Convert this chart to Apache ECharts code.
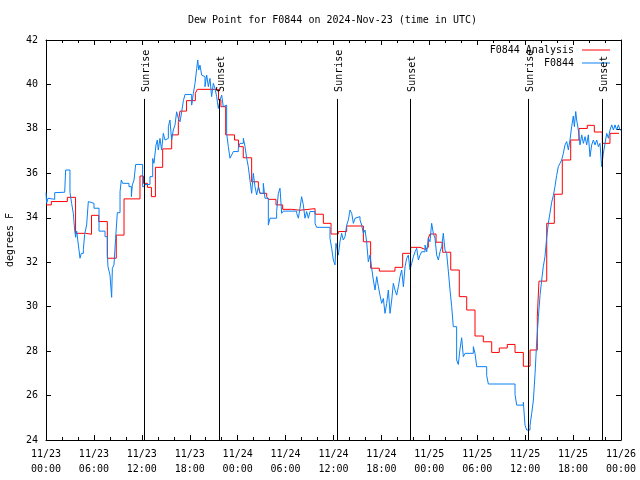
<!DOCTYPE html>
<html><head><meta charset="utf-8">
<script src="https://cdn.jsdelivr.net/npm/echarts@6/dist/echarts.min.js"></script>
<style>html,body{margin:0;padding:0;background:#fff}#c{width:640px;height:480px}</style>
</head><body><div id="c"></div>
<script>
var FONT = '"DejaVu Sans Mono", monospace';
var chartTitle = 'Dew Point for F0844 on 2024-Nov-23 (time in UTC)';
var yAxisTitle = 'degrees F';
var seriesNames = ['F0844 Analysis', 'F0844'];
var xTickLabels = ['11/23\n00:00','11/23\n06:00','11/23\n12:00','11/23\n18:00',
  '11/24\n00:00','11/24\n06:00','11/24\n12:00','11/24\n18:00',
  '11/25\n00:00','11/25\n06:00','11/25\n12:00','11/25\n18:00','11/26\n00:00'];
// hours since 11/23 00:00 UTC
var eventHours = [12.3, 21.7, 36.4, 45.6, 60.4, 69.65];
var eventLabels = ['Sunrise','Sunset','Sunrise','Sunset','Sunrise','Sunset'];
// analysis (hours, degF)
var analysisSeries = [[0,34.58],[0.67,34.73],[2.67,34.92],[3.7,33.30],[4.97,33.26],[5.7,34.11],[6.6,33.83],[7.68,32.18],[8.8,33.22],[9.77,34.85],[11.77,35.88],[12.2,35.55],[12.7,35.37],[13.2,34.95],[13.7,36.27],[14.61,37.1],[15.74,37.73],[16.57,38.33],[16.78,38.8],[17.6,39.27],[18.7,39.6],[18.95,39.78],[21.6,39.3],[21.9,39.0],[22.5,37.73],[23.6,37.5],[24.1,37.2],[24.7,36.7],[25.75,35.62],[26.59,35.43],[26.8,35.1],[27.63,34.95],[27.84,34.83],[28.8,34.58],[29.63,34.38],[30.76,34.34],[31.8,34.41],[33.69,34.16],[34.73,33.75],[35.69,33.27],[36.6,33.38],[37.65,33.63],[39.74,32.92],[40.65,31.73],[41.74,31.6],[43.7,31.77],[44.66,32.4],[45.66,32.67],[46.83,32.58],[47.46,32.67],[47.87,33.08],[48.08,33.27],[48.84,32.9],[49.67,32.45],[50.68,31.65],[51.75,30.45],[52.68,29.85],[53.72,28.68],[54.76,28.42],[55.81,27.94],[56.76,28.14],[57.76,28.3],[58.73,27.94],[59.77,27.32],[60.61,28.05],[61.52,29.55],[61.73,31.15],[62.7,33.75],[63.65,35.06],[64.65,36.6],[65.7,37.5],[66.74,38.02],[67.78,38.16],[68.66,37.86],[69.66,37.35],[70.62,37.8],[71.75,37.8]];
// observations (hours, degF)
var obsSeries = [[0,35.13],[0.08,34.65],[0.25,34.88],[0.5,34.83],[1.09,35.13],[1.25,35.15],[2.34,35.19],[2.46,36.15],[3.0,35.15],[3.21,34.65],[3.42,34.2],[3.59,33.45],[3.71,33.12],[3.84,33.4],[4.05,32.78],[4.26,32.18],[4.42,32.4],[4.68,32.58],[4.84,33.26],[5.09,33.68],[5.3,34.73],[5.38,34.65],[6.01,34.43],[6.64,33.4],[7.39,33.15],[7.68,32.4],[7.76,31.8],[8.01,31.43],[8.22,30.42],[8.31,31.73],[8.51,31.88],[8.72,33.08],[8.93,34.23],[9.27,35.17],[9.43,35.7],[9.6,35.55],[10.39,35.4],[10.69,34.95],[10.81,35.48],[11.02,35.7],[11.23,36.4],[12.1,35.4],[12.36,35.5],[13.02,35.85],[13.36,36.67],[13.52,36.45],[13.77,37.27],[13.94,37.5],[14.06,37.05],[14.27,37.57],[14.48,37.05],[14.69,37.8],[14.9,37.5],[15.11,37.57],[15.32,38.1],[15.52,38.4],[15.73,37.5],[15.94,37.95],[16.15,38.17],[16.36,38.77],[16.57,38.47],[16.78,38.32],[16.99,38.77],[17.2,39.27],[17.41,39.55],[18.24,39.07],[18.45,39.6],[18.66,40.05],[18.87,40.72],[19.0,41.1],[19.12,40.65],[19.28,40.87],[19.49,40.42],[19.7,40.35],[19.91,39.9],[20.12,40.42],[20.33,39.9],[20.53,40.27],[20.74,39.45],[20.95,40.05],[21.16,39.82],[21.37,39.45],[21.58,38.92],[21.79,39.3],[22.0,39.52],[22.2,39.0],[22.41,39.07],[22.62,37.8],[22.83,37.2],[23.04,36.68],[23.25,36.83],[23.46,36.98],[24.08,37.13],[24.29,37.35],[24.71,37.58],[24.92,37.2],[25.13,36.68],[25.33,36.3],[25.54,35.7],[25.75,35.1],[25.96,36.0],[26.17,35.4],[26.38,35.03],[26.59,35.4],[26.8,35.1],[27.21,35.55],[27.42,34.88],[27.84,33.67],[28.05,33.98],[28.88,34.28],[29.09,35.1],[29.3,35.33],[29.51,34.2],[29.72,34.3],[31.39,34.2],[31.6,33.98],[31.8,34.43],[32.01,34.95],[32.22,34.58],[32.43,33.98],[32.64,34.28],[32.85,33.98],[33.06,34.28],[33.69,33.75],[33.89,33.57],[35.56,33.08],[35.77,32.63],[35.98,32.1],[36.19,31.88],[36.31,32.85],[36.48,32.55],[36.6,32.32],[36.81,32.92],[37.02,33.3],[37.23,33.0],[37.44,33.15],[37.65,33.67],[37.86,33.9],[38.07,34.35],[38.28,34.2],[38.49,33.75],[38.7,33.98],[38.91,34.05],[39.32,33.9],[39.53,33.67],[39.74,33.3],[39.95,33.45],[40.15,32.92],[40.36,32.02],[40.57,32.32],[40.78,31.73],[40.99,31.2],[41.2,30.75],[41.41,31.35],[41.62,30.9],[41.82,30.52],[42.03,30.15],[42.24,30.37],[42.45,29.7],[42.66,30.15],[42.87,30.75],[43.08,29.7],[43.29,30.3],[43.49,31.05],[43.7,30.75],[43.91,30.52],[44.12,30.9],[44.33,31.35],[44.54,31.65],[44.75,30.9],[44.96,31.8],[45.16,32.17],[45.37,32.32],[45.58,31.65],[45.79,31.95],[46.0,32.25],[46.21,32.47],[46.42,32.63],[46.63,32.1],[46.83,32.32],[47.04,32.47],[47.46,32.77],[47.67,32.47],[47.88,33.08],[48.08,32.92],[48.29,33.75],[48.5,33.3],[48.71,33.08],[48.92,32.32],[49.13,32.1],[49.34,32.47],[49.55,32.7],[49.75,33.3],[49.96,32.55],[50.17,32.4],[50.38,31.6],[50.59,30.75],[50.8,30.0],[51.0,29.1],[51.21,29.1],[51.42,27.6],[51.63,27.4],[51.84,28.1],[52.05,28.6],[52.26,27.75],[52.47,27.9],[53.51,28.2],[53.72,27.9],[53.93,27.3],[55.18,26.9],[55.39,26.52],[58.73,26.05],[58.94,25.57],[59.77,25.7],[59.98,24.67],[60.19,24.45],[60.61,24.67],[60.82,25.2],[61.03,25.8],[61.24,27.0],[61.44,28.4],[61.65,29.5],[61.86,30.5],[62.07,31.2],[62.27,31.8],[62.48,32.25],[62.69,33.1],[62.9,33.75],[63.1,34.2],[63.32,34.7],[63.53,35.0],[63.73,35.4],[63.94,35.9],[64.15,36.3],[64.36,36.45],[64.57,36.6],[64.78,36.9],[64.99,37.28],[65.2,37.43],[65.41,37.05],[65.61,37.5],[65.82,38.1],[66.03,38.58],[66.16,38.1],[66.33,38.78],[66.45,38.4],[66.66,37.95],[66.87,37.28],[67.08,37.73],[67.29,37.35],[67.5,37.65],[67.7,37.28],[67.91,37.73],[68.12,36.75],[68.33,37.28],[68.54,37.5],[68.75,37.28],[68.96,37.5],[69.17,37.2],[69.37,37.35],[69.58,36.3],[69.79,36.9],[70.0,37.35],[70.21,37.8],[70.42,37.58],[70.63,37.95],[70.84,38.18],[71.05,37.95],[71.25,38.18],[71.46,37.95],[71.67,38.18],[71.88,37.95],[72,37.95]];

var X_MIN = 0, X_MAX = 72, Y_MIN = 24, Y_MAX = 42;
var EVENT_LINE_TOP = 39.35;

var chart = echarts.init(document.getElementById('c'), null, {renderer: 'canvas'});
var tickCommon = {inside: true, length: 5, lineStyle: {color: '#000'}};
var lineCommon = {show: true, onZero: false, lineStyle: {color: '#000', width: 1}};
var legendText = {fontFamily: FONT, fontSize: 10, color: '#000', lineHeight: 12, padding: [0, 3, 0, 0]};
var option = {
  animation: false,
  backgroundColor: '#fff',
  title: {text: chartTitle, left: 188, top: 14, padding: 0,
    textStyle: {fontFamily: FONT, fontSize: 10, fontWeight: 'normal', color: '#000', lineHeight: 12}},
  legend: [
    {data: [seriesNames[0]], right: 30, top: 44, padding: 0, align: 'right', icon: 'rect',
      itemWidth: 28, itemHeight: 1, textStyle: legendText},
    {data: [seriesNames[1]], right: 30, top: 57, padding: 0, align: 'right', icon: 'rect',
      itemWidth: 28, itemHeight: 1, textStyle: legendText}
  ],
  grid: {left: 46, right: 19, top: 40, bottom: 40, containLabel: false, outerBoundsMode: 'none'},
  xAxis: [
    {type: 'value', min: X_MIN, max: X_MAX, interval: 6, position: 'bottom',
      axisLine: lineCommon, axisTick: tickCommon,
      minorTick: {show: true, splitNumber: 3, length: 3, lineStyle: {color: '#000'}},
      splitLine: {show: false},
      axisLabel: {margin: 7, fontFamily: FONT, fontSize: 10, color: '#000', lineHeight: 15,
        formatter: function (v) { return xTickLabels[Math.round(v / 6)]; }}},
    {type: 'value', min: X_MIN, max: X_MAX, interval: 6, position: 'top',
      axisLine: lineCommon, axisTick: tickCommon,
      minorTick: {show: true, splitNumber: 3, length: 3, lineStyle: {color: '#000'}},
      splitLine: {show: false}, axisLabel: {show: false}}
  ],
  yAxis: [
    {type: 'value', min: Y_MIN, max: Y_MAX, interval: 2, position: 'left',
      name: yAxisTitle, nameLocation: 'middle', nameGap: 31, nameRotate: 90,
      nameTextStyle: {fontFamily: FONT, fontSize: 10, color: '#000'},
      axisLine: lineCommon, axisTick: tickCommon, splitLine: {show: false},
      axisLabel: {margin: 8, fontFamily: FONT, fontSize: 10, color: '#000'}},
    {type: 'value', min: Y_MIN, max: Y_MAX, interval: 2, position: 'right',
      axisLine: lineCommon, axisTick: tickCommon, splitLine: {show: false},
      axisLabel: {show: false}}
  ],
  series: [
    {name: seriesNames[0], type: 'line', step: 'end', data: analysisSeries,
      showSymbol: false, symbol: 'none', color: '#ff0000',
      lineStyle: {color: '#ff0000', width: 1}, z: 2},
    {name: seriesNames[1], type: 'line', step: 'end', data: obsSeries,
      showSymbol: false, symbol: 'none', color: '#0a80f5',
      lineStyle: {color: '#0a80f5', width: 1}, z: 3},
    {type: 'custom', z: 4, silent: true, clip: false,
      data: eventHours.map(function (h) { return [h, Y_MIN]; }),
      renderItem: function (params, api) {
        var h = api.value(0);
        var p0 = api.coord([h, Y_MIN]);
        var p1 = api.coord([h, EVENT_LINE_TOP]);
        var x = Math.round(p0[0]) + 0.5;
        return {type: 'group', children: [
          {type: 'line', shape: {x1: x, y1: p0[1], x2: x, y2: p1[1]},
            style: {stroke: '#000', lineWidth: 1}},
          {type: 'text', x: x + 1.5, y: p1[1] - 7, rotation: Math.PI / 2,
            style: {text: eventLabels[params.dataIndex], fill: '#000', font: '10px ' + FONT,
              textAlign: 'left', textVerticalAlign: 'middle', align: 'left', verticalAlign: 'middle'}}
        ]};
      }}
  ]
};
chart.setOption(option);
</script></body></html>
